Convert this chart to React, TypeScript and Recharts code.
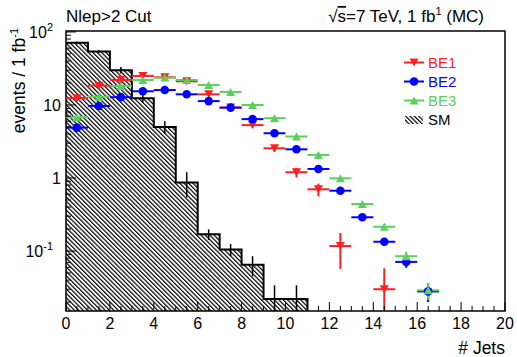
import React from "react";
import {
  ComposedChart,
  XAxis,
  YAxis,
  Area,
  Scatter,
  ErrorBar,
  ReferenceArea,
  Legend,
} from "recharts";

const FONT = "'Liberation Sans', Arial, Helvetica, sans-serif";
const RED = "#ff1f1f";
const BLUE = "#0000ff";
const GREEN = "#5ccf5c";

type Err = number | [number, number] | null;

// jet multiplicity bins (centres) for the signal points
const jetBins = [0.5, 1.5, 2.5, 3.5, 4.5, 5.5, 6.5, 7.5, 8.5, 9.5, 10.5, 11.5, 12.5, 13.5, 14.5, 15.5, 16.5];

// errors are symmetric, or [down, up] where the lower bar is cut by the frame
const be1Values = [12.4, 18.4, 22, 25, 23.9, 21.1, 14.0, 9.2, 5.3, 2.55, 1.2, 0.7, 0.117, null, 0.03, null, null];
const be1Errors: Err[] = [0.6, 0.75, 0.8, 0.9, 0.85, 0.8, 0.65, 0.5, 0.4, 0.28, 0.18, 0.14, 0.06, null, [0.0149, 0.028], null, null];

const be2Values = [4.9, 9.7, 12.8, 15.4, 16.0, 14.0, 11.3, 9.2, 6.4, 4.1, 2.47, 1.33, 0.67, 0.29, 0.134, 0.071, 0.028];
const be2Errors: Err[] = [0.1, 0.15, 0.17, 0.19, 0.19, 0.18, 0.16, 0.14, 0.12, 0.1, 0.08, 0.055, 0.04, 0.025, 0.017, 0.012, 0.008];

const be3Values = [6.8, 13.0, 18.2, 22, 23.7, 22, 18.8, 15.1, 10.0, 6.6, 3.7, 2.07, 0.99, 0.44, 0.215, 0.085, 0.029];
const be3Errors: Err[] = [0.12, 0.17, 0.2, 0.22, 0.23, 0.22, 0.2, 0.18, 0.15, 0.12, 0.09, 0.065, 0.045, 0.03, 0.021, 0.013, 0.0075];

// SM background histogram, one value per unit bin starting at 0
const smEdges = [0, 1, 2, 3, 4, 5, 6, 7, 8, 9, 10, 11];
const smValues = [71, 54, 30, 12.4, 5.0, 0.87, 0.17, 0.105, 0.065, 0.022, 0.022];
const smErrors: Err[] = [3, 2.5, 3, 1.6, 1.0, 0.33, 0.028, 0.02, 0.02, [0.0069, 0.012], [0.0069, 0.012]];

const Y_MIN = 0.0151;
const Y_MAX = 103;

const xTicks = Array.from({ length: 41 }, (_, i) => i * 0.5);
const decades = [0.01, 0.1, 1, 10, 100];
const yTicks = decades
  .flatMap((d) => [1, 2, 3, 4, 5, 6, 7, 8, 9].map((m) => +(m * d).toPrecision(3)))
  .filter((v) => v >= Y_MIN && v <= Y_MAX);
const yTickLabels = [
  { value: 100, base: "10", exp: "2" },
  { value: 10, base: "10", exp: "" },
  { value: 1, base: "1", exp: "" },
  { value: 0.1, base: "10", exp: "-1" },
];

const toPoints = (values: (number | null)[], errors: Err[]) =>
  jetBins
    .map((x, i) => ({ x, y: values[i], ex: 0.5, ey: errors[i] }))
    .filter((p) => p.y != null);

const be1Data = toPoints(be1Values, be1Errors);
const be2Data = toPoints(be2Values, be2Errors);
const be3Data = toPoints(be3Values, be3Errors);

// step outline: each edge carries the bin to its right, last edge drops to the floor
const smArea = smEdges.map((x, i) => ({ x, y: i < smValues.length ? smValues[i] : Y_MIN }));
const smErrData = smValues.map((y, i) => ({ x: smEdges[i] + 0.5, y, ey: smErrors[i] }));

const DownTriangle = ({ cx, cy, fill }: any) => (
  <polygon points={`${cx - 4.5},${cy - 4} ${cx + 4.5},${cy - 4} ${cx},${cy + 4}`} fill={fill} />
);
const UpTriangle = ({ cx, cy, fill }: any) => (
  <polygon points={`${cx - 4.5},${cy + 4} ${cx + 4.5},${cy + 4} ${cx},${cy - 4}`} fill={fill} />
);
const Dot = ({ cx, cy, fill }: any) => <circle cx={cx} cy={cy} r={4.3} fill={fill} />;
const NoMarker = () => <g />;

const XTick = ({ x, y, payload }: any) => {
  const v = payload.value;
  const major = v % 2 === 0;
  return (
    <g>
      <line x1={x} x2={x} y1={y} y2={y - (major ? 9 : 5)} stroke="#000" strokeWidth={1} />
      {major && (
        <text x={x} y={y + 18} textAnchor="middle" fontSize={16} fontFamily={FONT} fill="#000">
          {v}
        </text>
      )}
    </g>
  );
};

const YTick = ({ x, y, payload }: any) => {
  const v = payload.value;
  const label = yTickLabels.find((l) => Math.abs(l.value - v) < 1e-9);
  return (
    <g>
      <line x1={x} x2={x + (label ? 10 : 5)} y1={y} y2={y} stroke="#000" strokeWidth={1} />
      {label && (
        <text x={x - 5} y={y + 6} textAnchor="end" fontSize={16} fontFamily={FONT} fill="#000">
          {label.exp ? (
            <>
              <tspan dx={-8}>{label.base}</tspan>
              <tspan dy={-7} fontSize={11}>
                {label.exp}
              </tspan>
            </>
          ) : (
            label.base
          )}
        </text>
      )}
    </g>
  );
};

const legendItems = [
  { name: "BE1", color: RED, marker: "down" },
  { name: "BE2", color: BLUE, marker: "dot" },
  { name: "BE3", color: GREEN, marker: "up" },
  { name: "SM", color: "#000", marker: "hatch" },
];

const HatchPattern = ({ id }: { id: string }) => (
  <pattern id={id} width="3.1" height="3.1" patternUnits="userSpaceOnUse" patternTransform="rotate(-45)">
    <line x1="0.6" y1="0" x2="0.6" y2="3.1" stroke="#000" strokeWidth="1.2" />
  </pattern>
);

const LegendIcon = ({ color, marker }: { color: string; marker: string }) => (
  <svg width={24} height={19}>
    <defs>
      <HatchPattern id="legHatch" />
    </defs>
    {marker === "hatch" ? (
      <rect x={2} y={6} width={18} height={8} fill="url(#legHatch)" />
    ) : (
      <>
        <line x1={1} x2={21} y1={9.5} y2={9.5} stroke={color} strokeWidth={2} />
        {marker === "down" && <DownTriangle cx={11} cy={9.5} fill={color} />}
        {marker === "up" && <UpTriangle cx={11} cy={9.5} fill={color} />}
        {marker === "dot" && <Dot cx={11} cy={9.5} fill={color} />}
      </>
    )}
  </svg>
);

const LegendBox = () => (
  <div style={{ fontFamily: FONT, fontSize: 15 }}>
    {legendItems.map((it) => (
      <div key={it.name} style={{ display: "flex", alignItems: "center", height: 19 }}>
        <LegendIcon color={it.color} marker={it.marker} />
        <span style={{ color: it.color, marginLeft: 1 }}>{it.name}</span>
      </div>
    ))}
  </div>
);

export default function App() {
  return (
    <div style={{ position: "absolute", left: 0, top: 0, width: 517, height: 357, background: "#fff" }}>
      <ComposedChart width={517} height={357} margin={{ top: 31, right: 12, left: 0, bottom: 0 }}>
        <defs>
          <HatchPattern id="smHatch" />
        </defs>
        <XAxis
          type="number"
          dataKey="x"
          domain={[0, 20]}
          ticks={xTicks}
          interval={0}
          height={46}
          tickSize={0}
          tickMargin={0}
          axisLine={false}
          tickLine={false}
          tick={<XTick />}
          allowDataOverflow
        />
        <YAxis
          type="number"
          scale="log"
          domain={[Y_MIN, Y_MAX]}
          ticks={yTicks}
          interval={0}
          width={66}
          tickSize={0}
          tickMargin={0}
          axisLine={false}
          tickLine={false}
          tick={<YTick />}
          allowDataOverflow
        />
        <Area
          data={smArea}
          dataKey="y"
          type="stepAfter"
          stroke="#000"
          strokeWidth={2}
          fill="url(#smHatch)"
          fillOpacity={1}
          dot={false}
          activeDot={false}
          isAnimationActive={false}
        />
        <Scatter data={smErrData} dataKey="y" shape={<NoMarker />} isAnimationActive={false}>
          <ErrorBar dataKey="ey" direction="y" width={0} stroke="#000" strokeWidth={1.5} />
        </Scatter>
        <Scatter data={be1Data} dataKey="y" fill={RED} shape={<DownTriangle />} isAnimationActive={false}>
          <ErrorBar dataKey="ex" direction="x" width={0} stroke={RED} strokeWidth={2} />
          <ErrorBar dataKey="ey" direction="y" width={0} stroke={RED} strokeWidth={2} />
        </Scatter>
        <Scatter data={be2Data} dataKey="y" fill={BLUE} shape={<Dot />} isAnimationActive={false}>
          <ErrorBar dataKey="ex" direction="x" width={0} stroke={BLUE} strokeWidth={2} />
          <ErrorBar dataKey="ey" direction="y" width={0} stroke={BLUE} strokeWidth={2} />
        </Scatter>
        <Scatter data={be3Data} dataKey="y" fill={GREEN} shape={<UpTriangle />} isAnimationActive={false}>
          <ErrorBar dataKey="ex" direction="x" width={0} stroke={GREEN} strokeWidth={2} />
          <ErrorBar dataKey="ey" direction="y" width={0} stroke={GREEN} strokeWidth={2} />
        </Scatter>
        <ReferenceArea
          x1={0}
          x2={20}
          y1={Y_MIN}
          y2={Y_MAX}
          fill="none"
          stroke="#000"
          strokeWidth={1.5}
          ifOverflow="visible"
        />
        <Legend
          layout="vertical"
          align="center"
          verticalAlign="middle"
          content={<LegendBox />}
          wrapperStyle={{ position: "absolute", left: 403, top: 53, width: 100 }}
        />
      </ComposedChart>
      <svg
        width={517}
        height={357}
        style={{ position: "absolute", left: 0, top: 0, pointerEvents: "none" }}
        fontFamily={FONT}
      >
        <text x={66} y={22} fontSize={17} fill="#000">
          Nlep&gt;2 Cut
        </text>
        <text x={484} y={22} fontSize={17} fill="#000" textAnchor="end">
          √<tspan style={{ textDecoration: "overline" }}>s</tspan>=7 TeV, 1 fb
          <tspan dy={-7} fontSize={11}>
            1
          </tspan>
          <tspan dy={7}> (MC)</tspan>
        </text>
        <text transform="translate(25, 28) rotate(-90)" fontSize={17.5} fill="#000" textAnchor="end">
          events / 1 fb
          <tspan dy={-7} fontSize={11}>
            -1
          </tspan>
        </text>
        <text x={505} y={354} fontSize={17.5} fill="#000" textAnchor="end">
          # Jets
        </text>
      </svg>
    </div>
  );
}
